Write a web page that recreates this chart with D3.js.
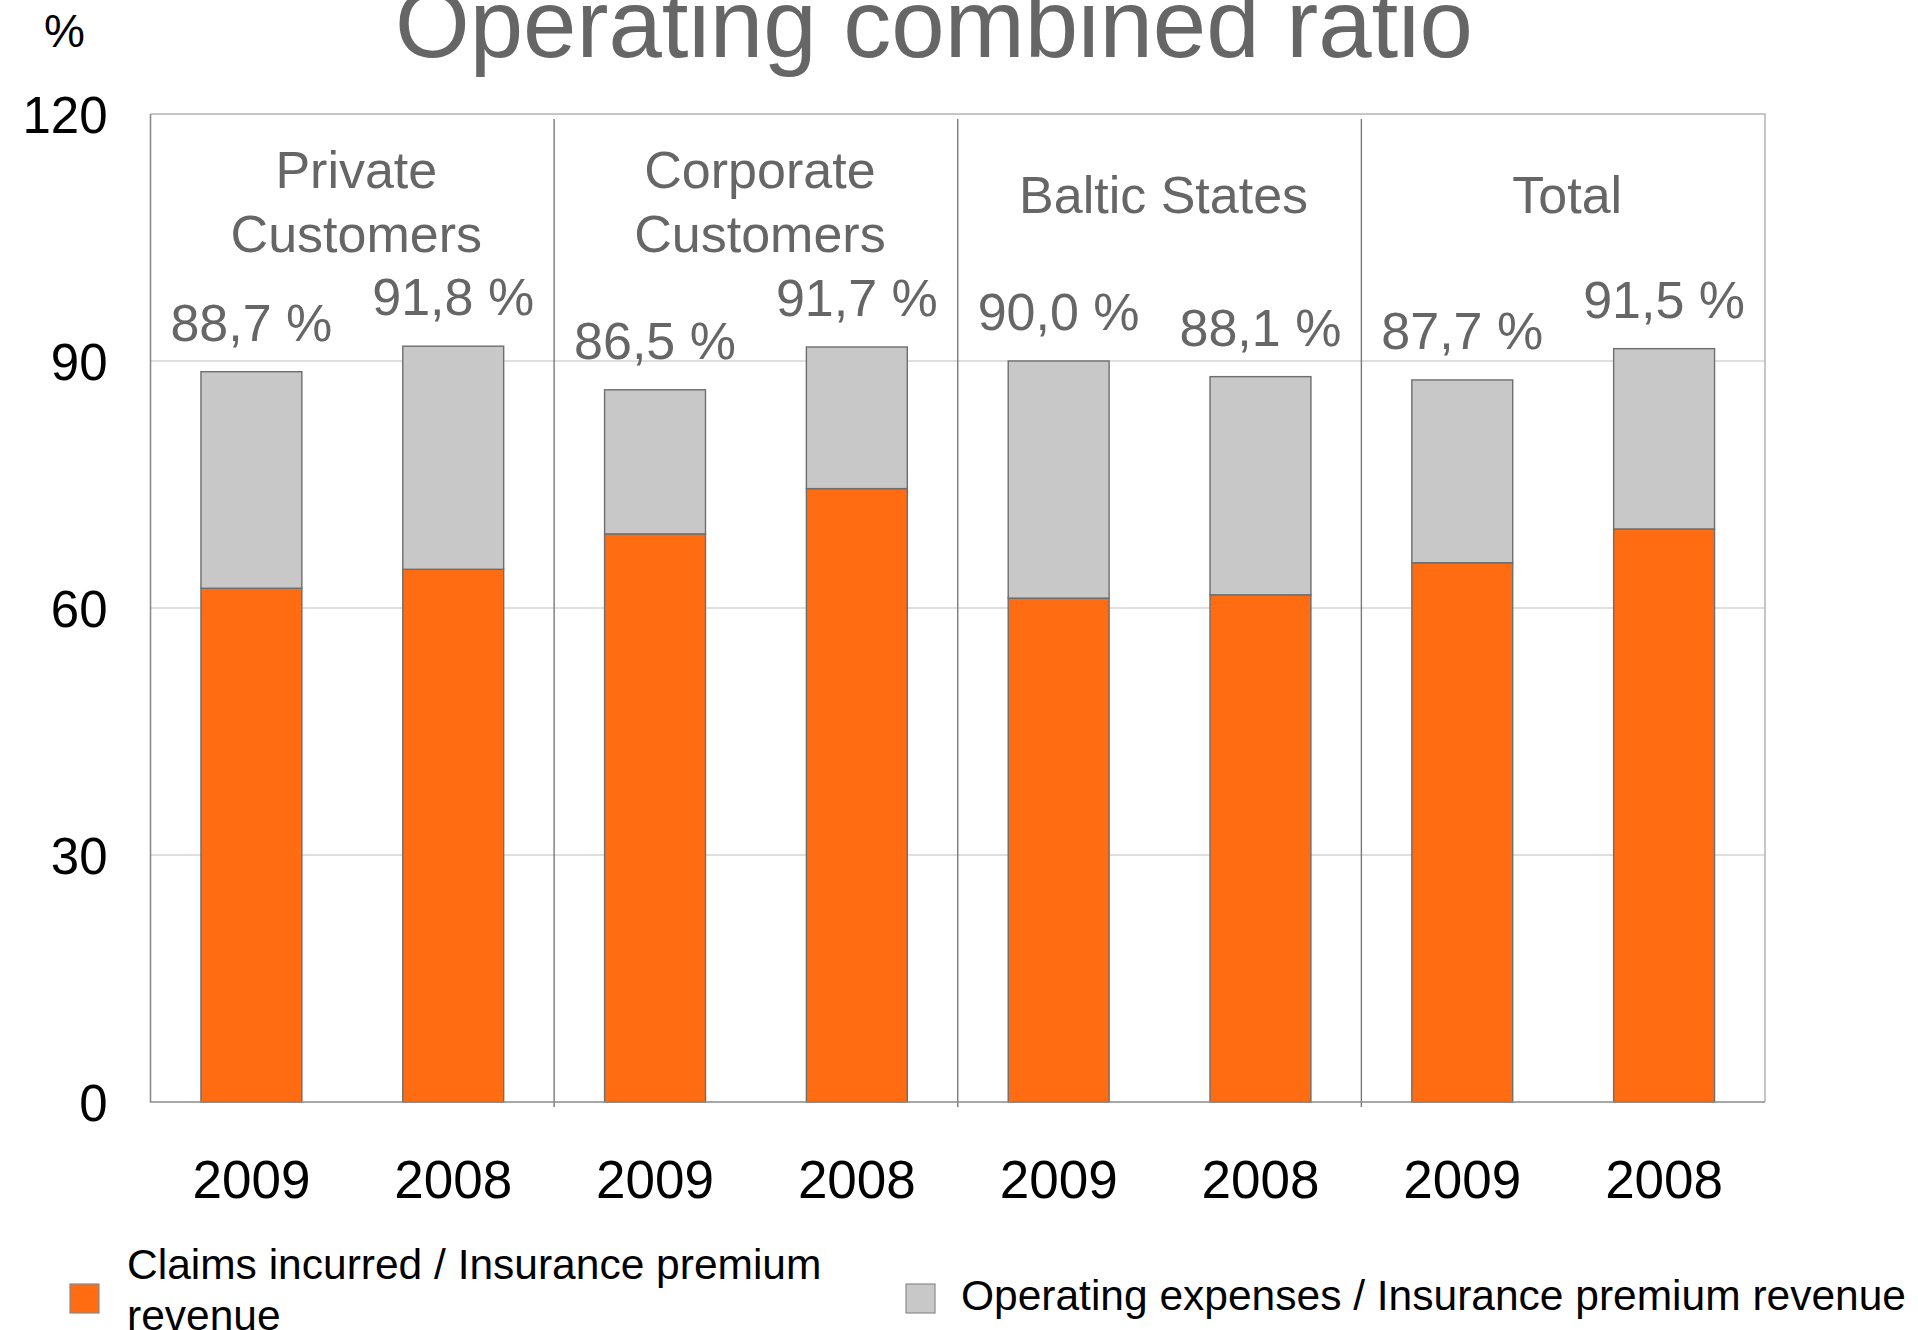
<!DOCTYPE html>
<html>
<head>
<meta charset="utf-8">
<script src="https://cdn.jsdelivr.net/npm/d3@7"></script>
<style>
  html, body { margin: 0; padding: 0; background: #fff; }
  svg { display: block; font-family: "Liberation Sans", Arial, sans-serif; }
</style>
</head>
<body>
<svg id="chart" width="1918" height="1330"></svg>
<script>
// Segments and years
const segments = [["Private", "Customers"], ["Corporate", "Customers"], ["Baltic States"], ["Total"]];
const years = ["2009", "2008"];
// One entry per bar: segment-major, 2009 then 2008
const claimsRatio   = [62.4, 64.7, 69.0, 74.5, 61.2, 61.6, 65.5, 69.6];
const expenseRatio  = [26.3, 27.1, 17.5, 17.2, 28.8, 26.5, 22.2, 21.9];
const combinedRatio = [88.7, 91.8, 86.5, 91.7, 90.0, 88.1, 87.7, 91.5];
const yTicks = [0, 30, 60, 90, 120];
const seriesNames = ["Claims incurred / Insurance premium revenue", "Operating expenses / Insurance premium revenue"];

const colors = { claims: "#FF6C11", expenses: "#C8C8C8", edge: "#6E6E6E" };
const textGrey = "#666666";

const svg = d3.select("#chart");
const plot = { left: 150.5, right: 1765, top: 114, bottom: 1102 };

const bars = claimsRatio.map((c, i) => ({
  id: i,
  segment: Math.floor(i / years.length),
  year: years[i % years.length],
  claims: c,
  expenses: expenseRatio[i],
  combined: combinedRatio[i]
}));

const y = d3.scaleLinear().domain([0, 120]).range([plot.bottom, plot.top]);
const x = d3.scaleBand().domain(bars.map(d => d.id)).range([plot.left, plot.right])
  .paddingInner(0.5).paddingOuter(0.25);
const gx = d3.scaleBand().domain(d3.range(segments.length)).range([plot.left, plot.right]).padding(0);

// Gridlines
svg.append("g").selectAll("line").data(yTicks.filter(t => t > 0 && t < 120)).join("line")
  .attr("x1", plot.left).attr("x2", plot.right)
  .attr("y1", d => y(d)).attr("y2", d => y(d))
  .attr("stroke", "#D4D4D4").attr("stroke-width", 1.3);

// Outer frame: light top/right, darker left/bottom
svg.append("path")
  .attr("d", `M${plot.left},${plot.top}H${plot.right}V${plot.bottom}`)
  .attr("fill", "none").attr("stroke", "#B4B4B4").attr("stroke-width", 1.5);

// Stacked bars
const stack = d3.stack().keys(["claims", "expenses"]);
const layers = stack(bars);
svg.append("g").selectAll("g").data(layers).join("g")
  .attr("fill", d => colors[d.key])
  .selectAll("rect").data(d => d).join("rect")
  .attr("x", d => x(d.data.id))
  .attr("width", x.bandwidth())
  .attr("y", d => y(d[1]))
  .attr("height", d => y(d[0]) - y(d[1]))
  .attr("stroke", colors.edge).attr("stroke-width", 1.4);

// Segment separators
svg.append("g").selectAll("line").data(d3.range(1, segments.length)).join("line")
  .attr("x1", d => gx(d)).attr("x2", d => gx(d))
  .attr("y1", plot.top + 5).attr("y2", plot.bottom + 5)
  .attr("stroke", "#7A7A7A").attr("stroke-width", 1.4);

// Left and bottom axis lines
svg.append("path")
  .attr("d", `M${plot.left},${plot.top}V${plot.bottom}H${plot.right}`)
  .attr("fill", "none").attr("stroke", "#8A8A8A").attr("stroke-width", 1.6);

// Y axis labels
const yAxis = svg.append("g").attr("transform", `translate(${plot.left},0)`)
  .call(d3.axisLeft(y).tickValues(yTicks).tickSize(0).tickPadding(43));
yAxis.select(".domain").remove();
yAxis.selectAll("text").attr("font-size", 51).attr("fill", "#000")
  .attr("font-family", "Liberation Sans, Arial, sans-serif").attr("dy", "0.36em");

// X axis labels
const xAxis = svg.append("g").attr("transform", `translate(0,${plot.bottom})`)
  .call(d3.axisBottom(x).tickFormat(i => bars[i].year).tickSize(0));
xAxis.select(".domain").remove();
xAxis.selectAll("text").attr("font-size", 53).attr("fill", "#000")
  .attr("font-family", "Liberation Sans, Arial, sans-serif")
  .attr("dy", null).attr("y", 96);

// Combined ratio labels above each bar
const fmt = v => d3.format(".1f")(v).replace(".", ",") + " %";
svg.append("g").selectAll("text").data(bars).join("text")
  .attr("x", d => x(d.id) + x.bandwidth() / 2)
  .attr("y", d => y(d.claims + d.expenses) - 31)
  .attr("text-anchor", "middle").attr("font-size", 52).attr("fill", textGrey)
  .text(d => fmt(d.combined));

// Segment headings
svg.append("g").selectAll("text").data(segments).join("text")
  .attr("x", (d, i) => gx(i) + gx.bandwidth() / 2 + 4)
  .attr("y", d => d.length > 1 ? 188 : 213)
  .attr("text-anchor", "middle").attr("font-size", 52).attr("fill", textGrey)
  .selectAll("tspan").data(d => d).join("tspan")
  .attr("x", function () { return d3.select(this.parentNode).attr("x"); })
  .attr("dy", (d, i) => i === 0 ? 0 : 64)
  .text(d => d);

// Title and unit
svg.append("text").attr("x", 934).attr("y", 57).attr("text-anchor", "middle")
  .attr("font-size", 96).attr("fill", textGrey).text("Operating combined ratio");
svg.append("text").attr("x", 44).attr("y", 47).attr("font-size", 46).attr("fill", "#000").text("%");

// Legend
const legend = svg.append("g");
legend.append("rect").attr("x", 70).attr("y", 1284).attr("width", 29).attr("height", 29)
  .attr("fill", colors.claims).attr("stroke", "#8A8A8A").attr("stroke-width", 1.2);
const l1 = legend.append("text").attr("x", 127).attr("y", 1279).attr("font-size", 42.5).attr("fill", "#000");
l1.append("tspan").attr("x", 127).text(seriesNames[0].replace(" revenue", ""));
l1.append("tspan").attr("x", 127).attr("dy", 51).text("revenue");

legend.append("rect").attr("x", 906).attr("y", 1284).attr("width", 29).attr("height", 29)
  .attr("fill", colors.expenses).attr("stroke", "#8A8A8A").attr("stroke-width", 1.2);
legend.append("text").attr("x", 961).attr("y", 1310).attr("font-size", 42.5).attr("fill", "#000")
  .text(seriesNames[1]);
</script>
</body>
</html>
